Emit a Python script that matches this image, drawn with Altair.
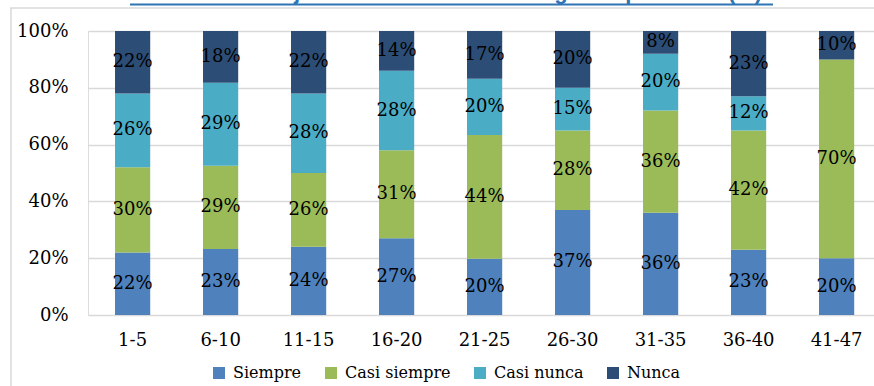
import altair as alt
import pandas as pd

# Years of experience groups and answer shares (%)
grupos = ["1-5", "6-10", "11-15", "16-20", "21-25", "26-30", "31-35", "36-40", "41-47"]
siempre = [22, 23, 24, 27, 20, 37, 36, 23, 20]
casi_siempre = [30, 29, 26, 31, 44, 28, 36, 42, 70]
casi_nunca = [26, 29, 28, 28, 20, 15, 20, 12, 0]
nunca = [22, 18, 22, 14, 17, 20, 8, 23, 10]

respuestas = ["Siempre", "Casi siempre", "Casi nunca", "Nunca"]
colores = ["#4F81BD", "#9BBB59", "#4BACC6", "#2C4D75"]
titulo = "Gráfico 2.12: Ejercicios matemáticos según experiencia (%)"

rows = []
for serie_idx, (nombre, valores) in enumerate(zip(respuestas, [siempre, casi_siempre, casi_nunca, nunca])):
    for g, v in zip(grupos, valores):
        rows.append({"grupo": g, "respuesta": nombre, "orden": serie_idx, "valor": v})
df = pd.DataFrame(rows)

SERIF = "DejaVu Serif"
W, H = 786, 284

base = alt.Chart(df).transform_stack(
    stack="valor",
    groupby=["grupo"],
    as_=["y0", "y1"],
    offset="normalize",
    sort=[alt.SortField("orden", order="ascending")],
).transform_calculate(
    ymid="(datum.y0 + datum.y1) / 2",
    etiqueta="datum.valor + '%'",
)

x_enc = alt.X(
    "grupo:N",
    sort=grupos,
    scale=alt.Scale(paddingInner=0.6, paddingOuter=0.266, align=0.577),
    axis=alt.Axis(
        title=None, labelAngle=0, domain=False, ticks=False,
        labelFont=SERIF, labelFontSize=18, labelColor="#000000", labelPadding=16,
    ),
)

bars = base.mark_bar().encode(
    x=x_enc,
    y=alt.Y(
        "y0:Q",
        scale=alt.Scale(domain=[0, 1], nice=False),
        axis=alt.Axis(
            title=None, format=".0%", values=[0, 0.2, 0.4, 0.6, 0.8, 1.0],
            domain=False, ticks=False, grid=True, gridColor="#D9D9D9", gridWidth=1.5,
            labelFont=SERIF, labelFontSize=18, labelColor="#000000", labelPadding=20,
        ),
    ),
    y2="y1:Q",
    color=alt.Color(
        "respuesta:N",
        scale=alt.Scale(domain=respuestas, range=colores),
        legend=alt.Legend(
            title=None, orient="none", direction="horizontal",
            legendX=123, legendY=334,
            symbolType="square", symbolSize=144, symbolStrokeWidth=0,
            labelFont=SERIF, labelFontSize=16, labelColor="#000000",
            labelOffset=6, columnPadding=21,
        ),
    ),
)

labels = base.transform_filter("datum.valor > 0").mark_text(
    font=SERIF, fontSize=18, color="#000000", baseline="middle", align="center"
).encode(
    x=alt.X("grupo:N", sort=grupos),
    y=alt.Y("ymid:Q"),
    text="etiqueta:N",
)

# Frame lines around the chart area
frame_top = alt.Chart().mark_rule(color="#D9D9D9", strokeWidth=1.5).encode(
    x=alt.value(-78), x2=alt.value(W + 10), y=alt.value(-23)
)
frame_left = alt.Chart().mark_rule(color="#D9D9D9", strokeWidth=1.5).encode(
    x=alt.value(-77), y=alt.value(-23), y2=alt.value(H + 80)
)

# Heading above the frame (only its lower edge falls inside the page), with its underline
heading = alt.Chart().mark_text(
    text=titulo, font="Liberation Sans", fontWeight="bold", fontSize=22,
    color="#2F74B5", align="center", baseline="alphabetic",
).encode(x=alt.value(363), y=alt.value(-32))
heading_line = alt.Chart().mark_rule(color="#2F74B5", strokeWidth=2).encode(
    x=alt.value(42), x2=alt.value(685), y=alt.value(-26.5)
)

chart = alt.layer(bars, labels, frame_top, frame_left, heading, heading_line).properties(
    width=W,
    height=H,
    padding={"left": 88, "top": 31, "right": 0, "bottom": 71},
    autosize="none",
).configure_view(stroke=None).configure(background="#FFFFFF").configure_legend(
    labelFont=SERIF, labelFontSize=16, labelColor="#000000"
)

chart.save("out.html", embed_options={"renderer": "svg", "actions": False})
